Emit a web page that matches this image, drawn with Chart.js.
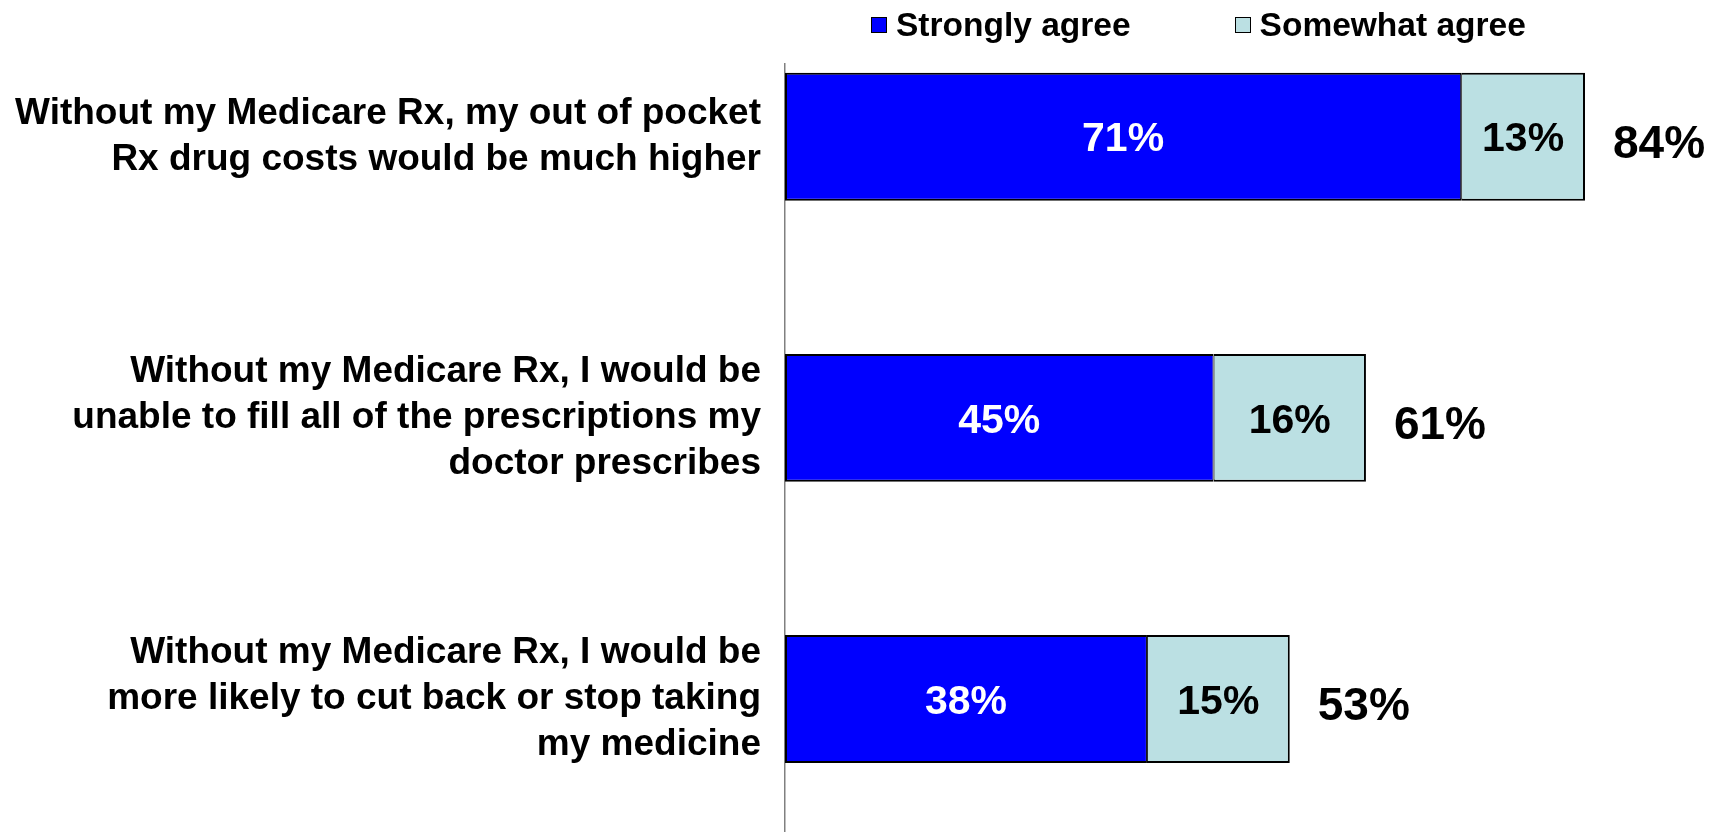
<!DOCTYPE html>
<html>
<head>
<meta charset="utf-8">
<script src="https://cdn.jsdelivr.net/npm/chart.js@4.4.1/dist/chart.umd.min.js"></script>
<style>
html,body{margin:0;padding:0;background:#fff;overflow:hidden}
#wrap{position:relative;width:1725px;height:832px}
#chartBox{position:absolute;left:0;top:0;width:1725px;height:832px}
#legend{position:absolute;left:871px;top:8px;height:34px;display:flex;align-items:center;gap:104px;
  font-family:"Liberation Sans",Arial,sans-serif;font-weight:bold;font-size:33.5px;color:#000;line-height:1;white-space:nowrap}
.item{display:flex;align-items:center}
.sw{width:14px;height:14px;border:1.5px solid #000;margin-right:9px;flex:none}
</style>
</head>
<body>
<div id="wrap">
  <div id="chartBox"><canvas id="c"></canvas></div>
  <div id="legend"></div>
</div>
<script>
// ---- data ----
const categories = [
  ["Without my Medicare Rx, my out of pocket", "Rx drug costs would be much higher"],
  ["Without my Medicare Rx, I would be", "unable to fill all of the prescriptions my", "doctor prescribes"],
  ["Without my Medicare Rx, I would be", "more likely to cut back or stop taking", "my medicine"]
];
const seriesNames = ["Strongly agree", "Somewhat agree"];
const stronglyAgree = [71, 45, 38];
const somewhatAgree = [13, 16, 15];
const totals = [84, 61, 53];
const seriesColors = ["#0000FF", "#BBE0E3"];
const labelColors = ["#FFFFFF", "#000000"];

// ---- legend (HTML text) ----
const legendEl = document.getElementById('legend');
seriesNames.forEach((name, i) => {
  const it = document.createElement('div');
  it.className = 'item';
  const sw = document.createElement('span');
  sw.className = 'sw';
  sw.style.background = seriesColors[i];
  const tx = document.createElement('span');
  tx.textContent = name;
  it.appendChild(sw); it.appendChild(tx);
  legendEl.appendChild(it);
});

const FAM = '"Liberation Sans", Arial, sans-serif';

const valueLabels = {
  id: 'valueLabels',
  afterDatasetsDraw(chart) {
    const ctx = chart.ctx;
    ctx.save();
    chart.data.datasets.forEach((ds, di) => {
      const meta = chart.getDatasetMeta(di);
      const size = 41;
      ctx.font = 'bold ' + size + 'px ' + FAM;
      ctx.fillStyle = labelColors[di];
      ctx.textAlign = 'center';
      ctx.textBaseline = 'alphabetic';
      meta.data.forEach((bar, i) => {
        const cx = (bar.x + bar.base) / 2;
        ctx.fillText(ds.data[i].x + '%', cx, bar.y + 0.358 * size);
      });
    });
    const last = chart.getDatasetMeta(chart.data.datasets.length - 1);
    const tSize = 46;
    ctx.font = 'bold ' + tSize + 'px ' + FAM;
    ctx.fillStyle = '#000';
    ctx.textAlign = 'left';
    last.data.forEach((bar, i) => {
      ctx.fillText(totals[i] + '%', bar.x + 28, bar.y + 5 + 0.358 * tSize);
    });
    ctx.restore();
  }
};

new Chart(document.getElementById('c'), {
  type: 'bar',
  data: {
    datasets: [
      {
        label: seriesNames[0],
        data: stronglyAgree.map((v, i) => ({ x: v, y: i })),
        backgroundColor: seriesColors[0],
        borderColor: '#000',
        borderWidth: { top: 2, bottom: 2, left: 2, right: 1 },
        borderSkipped: false
      },
      {
        label: seriesNames[1],
        data: somewhatAgree.map((v, i) => ({ x: v, y: i })),
        backgroundColor: seriesColors[1],
        borderColor: '#000',
        borderWidth: { top: 2, bottom: 2, left: 1, right: 2 },
        borderSkipped: false
      }
    ]
  },
  options: {
    indexAxis: 'y',
    responsive: true,
    maintainAspectRatio: false,
    animation: false,
    layout: { padding: { top: 64, right: 40, bottom: 0, left: 0 } },
    categoryPercentage: 1,
    barPercentage: 0.455,
    plugins: { legend: { display: false }, tooltip: { enabled: false } },
    scales: {
      x: { type: 'linear', stacked: true, min: 0, max: 94.5, display: false },
      y: {
        type: 'linear', stacked: true, reverse: true, bounds: 'data', offset: false,
        min: -0.2586, max: 2.473,
        afterBuildTicks: s => { s.ticks = categories.map((_, i) => ({ value: i })); },
        afterFit: s => { s.width = 785; s.paddingTop = 0; s.paddingBottom = 0; },
        grid: { display: false, drawTicks: false, offset: false },
        border: { display: true, color: '#808080', width: 1.5 },
        ticks: {
          autoSkip: false, padding: 24, color: '#000',
          font: { family: FAM, weight: 'bold', size: 37, lineHeight: 1.25 },
          callback: v => categories[v]
        }
      }
    }
  },
  plugins: [valueLabels]
});
</script>
</body>
</html>
